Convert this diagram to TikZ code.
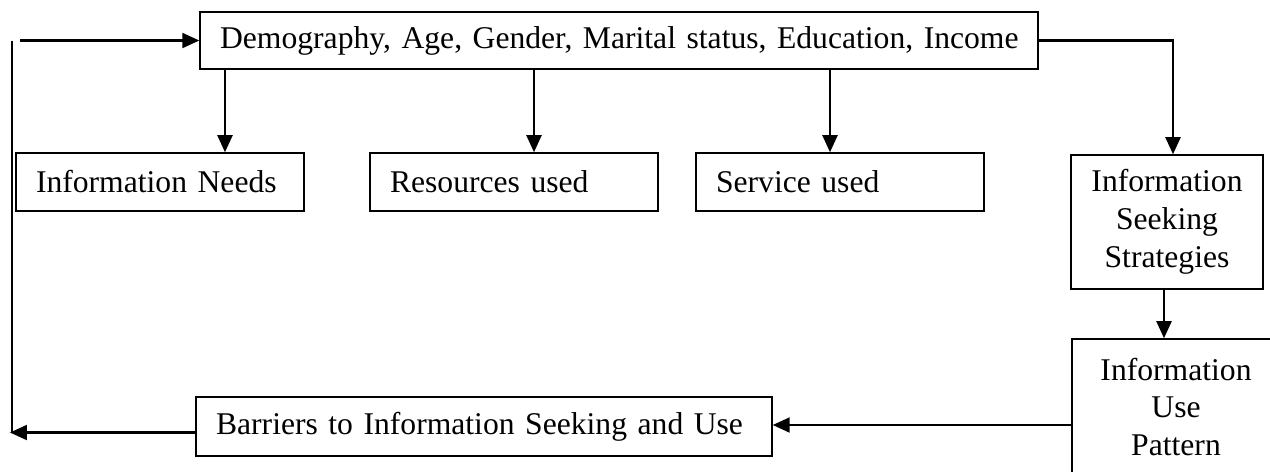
\documentclass[tikz,border=0pt]{standalone}
\usepackage{fontspec}
\setmainfont{Liberation Serif}
\usetikzlibrary{arrows.meta}

\begin{document}
\begin{tikzpicture}[x = 0.02cm, y = -0.02cm]
		\tikzset{box/.style={draw, line width = 0.9pt, inner xsep = 0.4cm, inner ysep = 0pt, align = left, font = \fontsize{18}{21.6}\selectfont}}
		\tikzset{tallbox/.style={box, align = center, inner xsep = 0pt}}
		\tikzset{link/.style={line width = 1.2pt, -{Triangle[length = 0.34cm, width = 0.3cm]}}}
		\useasboundingbox (0, 0) rectangle (1270, 471);
		\clip (0, 0) rectangle (1270, 471);
		%boxes
		\node[box, text width = 15.96cm, minimum height = 1.14cm] (demo) at (619, 40.5) {\mbox{Demography, Age, Gender, Marital status, Education, Income}};
		\node[box, text width = 4.96cm, minimum height = 1.16cm] (needs) at (160, 182) {Information Needs};
		\node[box, text width = 4.96cm, minimum height = 1.16cm] (resources) at (514, 182) {Resources used};
		\node[box, text width = 4.96cm, minimum height = 1.16cm] (service) at (840, 182) {Service used};
		\node[tallbox, text width = 3.84cm, minimum height = 2.68cm] (seeking) at (1167, 222) {Information\\Seeking\\Strategies};
		\node[tallbox, text width = 4.16cm, minimum height = 2.72cm] (usepat) at (1176, 407) {Information\\Use\\Pattern};
		\node[box, text width = 10.72cm, minimum height = 1.18cm] (barriers) at (484, 426.5) {Barriers to Information Seeking and Use};
		\coordinate (start) at (20, 0);
		\coordinate (back) at (12, 0);
		\coordinate (barout) at ([yshift = -0.12cm]barriers.west);
		%links
		\draw[link] (start |- demo.west) -- (demo.west);
		\draw[link] ([xshift = 1.3cm]needs.north |- demo.south) -- ([xshift = 1.3cm]needs.north);
		\draw[link] ([xshift = 0.4cm]resources.north |- demo.south) -- ([xshift = 0.4cm]resources.north);
		\draw[link] ([xshift = -0.2cm]service.north |- demo.south) -- ([xshift = -0.2cm]service.north);
		\draw[link] (demo.east) -| ([xshift = 0.12cm]seeking.north);
		\draw[link] ([xshift = -0.06cm]seeking.south) -- ([xshift = -0.06cm]seeking.south |- usepat.north);
		\draw[link] ([yshift = -0.36cm]usepat.west) -- ([yshift = -0.36cm]usepat.west -| barriers.east);
		\draw[link] (barout) -- ([xshift = -0.04cm]barout -| back);
		\draw[line width = 1.2pt] (back |- demo.west) -- (barout -| back);
\end{tikzpicture}
\end{document}
